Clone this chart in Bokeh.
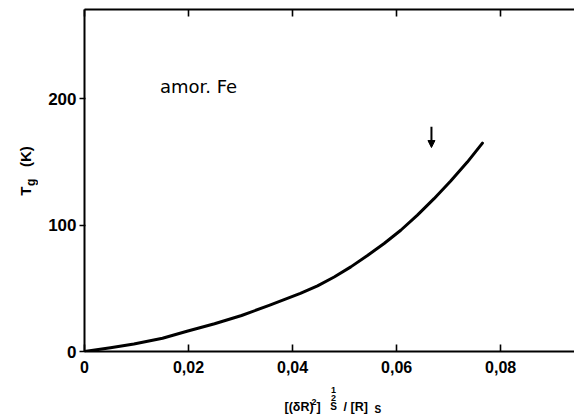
from math import pi

from bokeh.plotting import figure
from bokeh.layouts import row, column
from bokeh.models import (LinearAxis, FixedTicker, Range1d, Arrow, NormalHead,
                          Label)
from bokeh.core.properties import value
from bokeh.embed import file_html
from bokeh.resources import INLINE

# T_g of amorphous Fe against the relative roughness [(dR)^2]^(1/2)_S / [R]_S
ratio = [0.0, 0.005, 0.0095, 0.015, 0.0197, 0.025, 0.0302, 0.0355, 0.0415,
         0.0448, 0.048, 0.0512, 0.0544, 0.0576, 0.0608, 0.064, 0.0672,
         0.0704, 0.0736, 0.0765]
tg_kelvin = [0, 3, 6, 10.5, 16, 22, 28.5, 36.5, 46,
             52, 59, 67, 76, 85.5, 96, 108, 121,
             135, 150, 165]

x_ticks = [0, 0.02, 0.04, 0.06, 0.08]
x_tick_labels = ["0", "0,02", "0,04", "0,06", "0,08"]
y_ticks = [0, 100, 200]
y_tick_labels = ["0", "100", "200"]

# vertical marker arrow above the curve
marker_x = 0.0667
marker_top, marker_bottom = 178, 161.5

X_END = 0.0942
Y_END = 270.8

FONT = "Liberation Sans"

LEFT_W = 38          # strip holding the rotated y title
MAIN_H = 380         # height of the plotting figure
TOTAL_W, TOTAL_H = 574, 417


def text_strip(width, height):
    """A bare figure whose frame fills it, used as a canvas for axis titles."""
    f = figure(width=width, height=height, output_backend="svg",
               toolbar_location=None, x_axis_type=None, y_axis_type=None,
               x_range=Range1d(0, width), y_range=Range1d(0, height),
               min_border=0, min_border_left=0, min_border_right=0,
               min_border_top=0, min_border_bottom=0)
    f.outline_line_color = None
    f.xgrid.visible = False
    f.ygrid.visible = False
    f.background_fill_color = "white"
    f.border_fill_color = "white"
    return f


def put(f, text, x, y_from_top, size, angle=0.0, align="left"):
    f.text(x=[x], y=[f.height - y_from_top], text=[text],
           text_font=value(FONT), text_font_size=value(size),
           text_font_style="bold", text_align=align,
           text_baseline="alphabetic", text_color="black", angle=angle)


# ---- main plot -----------------------------------------------------------
p = figure(width=TOTAL_W - LEFT_W, height=MAIN_H, output_backend="svg",
           toolbar_location=None,
           x_range=Range1d(0, X_END), y_range=Range1d(0, Y_END),
           x_axis_type=None, y_axis_type=None,
           min_border_left=84 - LEFT_W, min_border_right=0,
           min_border_top=9, min_border_bottom=MAIN_H - 351)
p.outline_line_color = None
p.background_fill_color = "white"
p.border_fill_color = "white"
p.xgrid.visible = False
p.ygrid.visible = False


def style_axis(ax, ticks, labels, size):
    ax.ticker = FixedTicker(ticks=ticks)
    ax.major_label_overrides = {t: l for t, l in zip(ticks, labels)}
    ax.minor_tick_line_color = None
    ax.axis_line_width = 2
    ax.major_tick_line_width = 1.6
    ax.major_label_text_font = FONT
    ax.major_label_text_font_style = "bold"
    ax.major_label_text_font_size = size
    ax.major_label_text_color = "black"


xb = LinearAxis()
style_axis(xb, x_ticks, x_tick_labels, "16px")
xb.major_tick_in = 7
xb.major_tick_out = 0
xb.major_label_standoff = 9
p.add_layout(xb, "below")

xt = LinearAxis()
style_axis(xt, x_ticks, ["" for _ in x_ticks], "0px")
xt.major_tick_in = 7
xt.major_tick_out = 0
xt.major_label_standoff = 0
p.add_layout(xt, "above")

yl = LinearAxis()
style_axis(yl, y_ticks, y_tick_labels, "17px")
yl.major_tick_in = 1
yl.major_tick_out = 5
yl.major_label_standoff = 3
p.add_layout(yl, "left")

# the curve
p.line(ratio, tg_kelvin, line_color="black", line_width=3,
       line_join="round", line_cap="round")

p.add_layout(Arrow(x_start=marker_x, y_start=marker_top,
                   x_end=marker_x, y_end=marker_bottom,
                   line_width=2, line_color="black",
                   end=NormalHead(size=7, fill_color="black",
                                  line_color="black", line_width=1)))

p.add_layout(Label(x=0.0145, y=210, text="amor. Fe",
                   text_font="DejaVu Sans", text_font_size="18px",
                   text_baseline="alphabetic", text_color="black"))

# ---- y title strip: T_g (K), rotated ------------------------------------
left = text_strip(LEFT_W, MAIN_H)
put(left, "T", 25, 207, "15px", angle=pi / 2)
put(left, "g", 30, 196, "12px", angle=pi / 2)
put(left, "(K)", 25, 175, "15px", angle=pi / 2)

# ---- x title strip: [(δR)^2]^{1/2}_S / [R]_S -----------------------------
bottom = text_strip(TOTAL_W, TOTAL_H - MAIN_H)
off = MAIN_H
put(bottom, "[(δR)", 284, 406 - off, "12.5px")
put(bottom, "2", 311, 401 - off, "9px")
put(bottom, "]", 316, 406 - off, "12.5px")
put(bottom, "1", 333, 389 - off, "9px", align="center")
put(bottom, "2", 333, 397 - off, "9px", align="center")
put(bottom, "S", 333, 406 - off, "10px", align="center")
put(bottom, "/", 343, 406 - off, "12.5px")
put(bottom, "[R]", 350, 406 - off, "12.5px")
put(bottom, "S", 374, 409 - off, "10px")

layout = column(row(left, p, spacing=0), bottom, spacing=0)
open("out.html", "w").write(file_html(layout, INLINE))
